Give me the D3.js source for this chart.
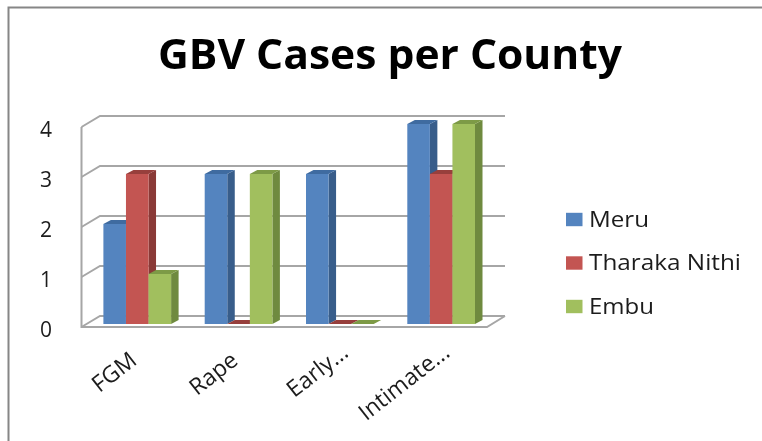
<!DOCTYPE html>
<html><head><meta charset="utf-8">
<script src="https://cdnjs.cloudflare.com/ajax/libs/d3/7.8.5/d3.min.js"></script>
<style>html,body{margin:0;padding:0;background:#fff}svg{display:block;filter:blur(0.45px)}text{font-family:"Open Sans",sans-serif;fill:#1c1c1c}</style>
</head><body><svg id="c" width="762" height="441"></svg>
<script>
const categories = ["FGM", "Rape", "Early...", "Intimate..."];
const seriesNames = ["Meru", "Tharaka Nithi", "Embu"];
const meru = [2, 3, 3, 4];
const tharakaNithi = [3, 0, 0, 3];
const embu = [1, 3, 0, 4];
const ticks = [0, 1, 2, 3, 4];
const seriesValues = [meru, tharakaNithi, embu];
const front = ["#5484bf", "#c35552", "#a1bf5e"];
const side = ["#385d8a", "#8a3a37", "#6f8a3f"];
const topc = ["#3f6ba0", "#973f3c", "#7d9a46"];

const svg = d3.select("#c");
const grid = "#a6a6a6";
const dx = 7.5, dy = 4;
const yFront = d3.scaleLinear().domain([0, 4]).range([327, 127]);
const yBack = d3.scaleLinear().domain([0, 4]).range([316, 116]);
const yBar = d3.scaleLinear().domain([0, 4]).range([324, 124]);
const xCat = d3.scaleBand().domain(categories).range([86.6, 491.8]);
const inner = d3.scaleBand().domain(seriesNames).range([0, 67.7]);
const left = 81.5, leftBack = 100, rightFront = 487, right = 505;

// chart frame
svg.append("path").attr("d", "M8.5,441V7.5H762").attr("fill", "none").attr("stroke", "#868686").attr("stroke-width", 2);

// walls
ticks.forEach(t => {
  svg.append("path").attr("fill", "none").attr("stroke", grid).attr("stroke-width", 2)
    .attr("d", `M${left},${yFront(t)}L${leftBack},${yBack(t)}H${right}`);
});
svg.append("path").attr("fill", "none").attr("stroke", grid).attr("stroke-width", 2)
  .attr("d", `M${left},${yFront(4)}V${yFront(0)}H${rightFront}L${right},${yBack(0)}`);

// bars
categories.forEach((c, i) => {
  const x0 = xCat(c) + (xCat.bandwidth() - inner.range()[1]) / 2;
  seriesNames.forEach((s, k) => {
    const v = seriesValues[k][i];
    const x = x0 + inner(s), w = inner.bandwidth(), y = yBar(v), b = yBar(0);
    if (v > 0) svg.append("path").attr("fill", side[k])
      .attr("d", `M${x + w},${y}L${x + w + dx},${y - dy}V${b - dy}L${x + w},${b}Z`);
    svg.append("path").attr("fill", topc[k])
      .attr("d", `M${x},${y}L${x + dx},${y - dy}H${x + w + dx}L${x + w},${y}Z`);
    if (v > 0) svg.append("rect").attr("x", x).attr("y", y).attr("width", w).attr("height", b - y).attr("fill", front[k]);
  });
});

// y tick labels
ticks.forEach(t => {
  svg.append("text").attr("x", 46).attr("y", yFront(t) + 10)
    .attr("text-anchor", "middle").attr("font-size", 21).text(t);
});

// x labels
categories.forEach(c => {
  const ax = xCat(c) + xCat.bandwidth() / 2;
  const tail = c.endsWith("...");
  svg.append("text").attr("text-anchor", "end").attr("font-size", 23)
    .attr("transform", `translate(${ax + (tail ? 10 : 1)},${tail ? 355 : 363}) rotate(-38)`).text(c);
});

// title
svg.append("text").attr("x", 158).attr("y", 69)
  .attr("font-size", 41).attr("font-weight", 700).attr("textLength", 464).attr("lengthAdjust", "spacingAndGlyphs")
  .style("fill", "#000").text("GBV Cases per County");

// legend
const legendWidths = [60, 152, 65];
const ly = d3.scalePoint().domain(seriesNames).range([219.5, 306.5]);
seriesNames.forEach((s, k) => {
  svg.append("rect").attr("x", 566).attr("y", ly(s) - 6.7).attr("width", 16.5).attr("height", 13.4).attr("fill", front[k]);
  svg.append("text").attr("x", 589).attr("y", ly(s) + 7).attr("font-size", 21)
    .attr("textLength", legendWidths[k]).attr("lengthAdjust", "spacingAndGlyphs").text(s);
});
</script></body></html>
